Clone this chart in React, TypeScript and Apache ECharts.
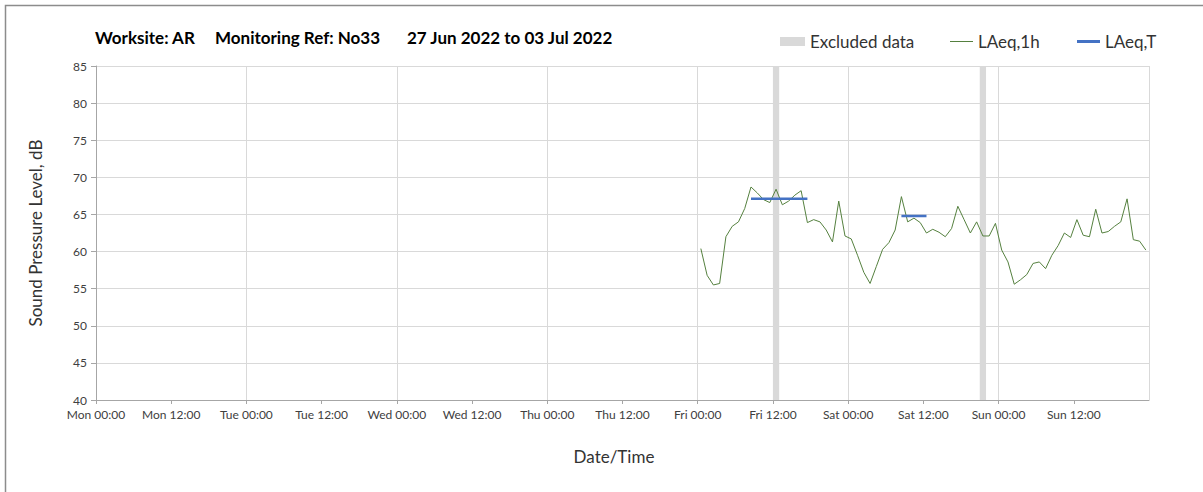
import React, { useEffect, useRef } from "react";
import * as echarts from "echarts";

const TITLE_PARTS = ["Worksite: AR", "Monitoring Ref: No33", "27 Jun 2022 to 03 Jul 2022"];
const DAYS = ["Mon", "Tue", "Wed", "Thu", "Fri", "Sat", "Sun"];
const FIRST_HOUR = 96.5; // Fri 00:30, hours since Mon 00:00
const LAEQ_1H = [
  60.4, 56.8, 55.5, 55.7, 62.0, 63.4, 64.0, 65.8, 68.7, 67.9, 67.0, 66.6,
  68.4, 66.3, 66.8, 67.6, 68.2, 63.9, 64.3, 64.0, 62.9, 61.3, 66.8, 62.1,
  61.7, 59.5, 57.2, 55.7, 58.0, 60.3, 61.2, 62.9, 67.4, 64.0, 64.5, 63.9,
  62.5, 63.0, 62.6, 62.0, 63.1, 66.1, 64.3, 62.5, 64.0, 62.1, 62.1, 63.8,
  60.2, 58.6, 55.6, 56.2, 56.9, 58.4, 58.6, 57.7, 59.5, 60.8, 62.5, 61.9,
  64.3, 62.2, 62.0, 65.7, 62.5, 62.7, 63.4, 64.0, 67.1, 61.6, 61.4, 60.2,
];
const LAEQ_T_PERIODS = [
  { start: 104.5, end: 113.5, value: 67.1 },
  { start: 128.5, end: 132.5, value: 64.8 },
];
const EXCLUDED = [
  [108, 109],
  [141, 142],
];
const X_MIN = 0;
const X_MAX = 168;
const Y_MIN = 40;
const Y_MAX = 85;

const FONT = "Lato, 'Open Sans', sans-serif";
const GREEN = "#55803f";
const BLUE = "#4472c4";
const GREY = "#d9d9d9";

export default function App() {
  const ref = useRef<HTMLDivElement>(null);
  useEffect(() => {
    if (!ref.current) return;
    const chart = echarts.init(ref.current, undefined, { renderer: "svg" });
    const lineData = LAEQ_1H.map((v, i) => [FIRST_HOUR + i, v]);
    const tSeries = LAEQ_T_PERIODS.flatMap((p, i) => {
      const pts: any[] = [[p.start, p.value], [p.end, p.value]];
      if (i < LAEQ_T_PERIODS.length - 1) pts.push([p.end, null]);
      return pts;
    });
    const titleX = [95, 215, 407];
    const legendText = { fontSize: 17, color: "#333", fontFamily: FONT };
    chart.setOption({
      animation: false,
      textStyle: { fontFamily: FONT },
      graphic: [
        {
          type: "rect",
          shape: { x: 5.5, y: 5.5, width: 1400, height: 800 },
          style: { fill: "none", stroke: "#8c8c8c", lineWidth: 1.5 },
          silent: true,
        },
        ...TITLE_PARTS.map((t, i) => ({
          type: "text",
          left: titleX[i],
          top: 29,
          style: {
            text: t,
            fontFamily: FONT,
            fontWeight: "bold",
            fontSize: 17,
            fill: "#000",
          },
        })),
      ],
      legend: [
        {
          left: 775,
          top: 28,
          itemWidth: 25,
          itemHeight: 9,
          itemGap: 2,
          textStyle: legendText,
          data: [{ name: "Excluded data", icon: "rect" }],
        },
        {
          left: 945,
          top: 28,
          itemWidth: 23,
          itemHeight: 1,
          textStyle: legendText,
          data: [{ name: "LAeq,1h", icon: "rect" }],
        },
        {
          left: 1072,
          top: 28,
          itemWidth: 23,
          itemHeight: 3,
          textStyle: legendText,
          data: [{ name: "LAeq,T", icon: "rect" }],
        },
      ],
      grid: { left: 96, right: 54, top: 66, bottom: 92 },
      xAxis: {
        type: "value",
        min: X_MIN,
        max: X_MAX,
        interval: 12,
        name: "Date/Time",
        nameLocation: "middle",
        nameGap: 48,
        nameTextStyle: { fontSize: 17, color: "#333", fontFamily: FONT, padding: [0, 17, 0, 0] },
        axisLine: { show: true, lineStyle: { color: "#a6a6a6" } },
        axisTick: { show: true, length: 4, lineStyle: { color: "#a6a6a6" } },
        axisLabel: {
          fontSize: 12,
          color: "#404040",
          margin: 8,
          showMaxLabel: false,
          formatter: (v: number) =>
            DAYS[Math.floor(v / 24) % 7] + " " + (v % 24 === 0 ? "00:00" : "12:00"),
        },
        splitLine: {
          show: true,
          lineStyle: { color: [GREY, "rgba(0,0,0,0)"], width: 1 },
        },
      },
      yAxis: {
        type: "value",
        min: Y_MIN,
        max: Y_MAX,
        interval: 5,
        name: "Sound Pressure Level, dB",
        nameLocation: "middle",
        nameGap: 52,
        nameTextStyle: { fontSize: 17, color: "#333", fontFamily: FONT },
        axisLine: { show: true, lineStyle: { color: "#a6a6a6" } },
        axisTick: { show: true, length: 5, lineStyle: { color: "#a6a6a6" } },
        axisLabel: { fontSize: 12, color: "#404040", margin: 9 },
        splitLine: { show: true, lineStyle: { color: GREY } },
      },
      series: [
        {
          name: "Excluded data",
          type: "custom",
          itemStyle: { color: GREY },
          z: 1,
          data: EXCLUDED,
          renderItem: (params: any, api: any) => {
            const p0 = api.coord([api.value(0), Y_MAX]);
            const p1 = api.coord([api.value(1), Y_MIN]);
            return {
              type: "rect",
              shape: { x: p0[0], y: p0[1], width: p1[0] - p0[0], height: p1[1] - p0[1] },
              style: { fill: GREY },
            };
          },
        },
        {
          name: "LAeq,1h",
          type: "line",
          z: 3,
          symbol: "none",
          itemStyle: { color: GREEN },
          lineStyle: { color: GREEN, width: 1 },
          data: lineData,
        },
        {
          name: "LAeq,T",
          type: "line",
          z: 4,
          symbol: "none",
          connectNulls: false,
          itemStyle: { color: BLUE },
          lineStyle: { color: BLUE, width: 2.5 },
          data: tSeries,
        },
      ],
    });
    return () => chart.dispose();
  }, []);
  return (
    <div
      ref={ref}
      style={{ position: "fixed", left: 0, top: 0, width: 1203, height: 492, background: "#fff" }}
    />
  );
}
